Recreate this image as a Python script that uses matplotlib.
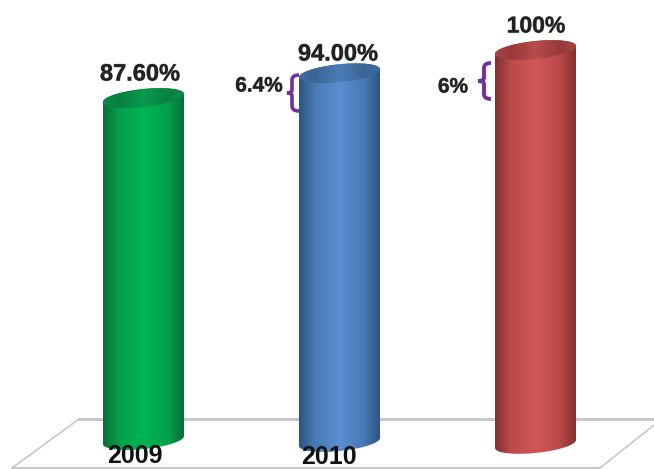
import matplotlib
matplotlib.use('Agg')
import matplotlib.pyplot as plt
import matplotlib.patheffects as pe
from matplotlib.patches import Polygon, PathPatch
from matplotlib.path import Path
from matplotlib.colors import LinearSegmentedColormap
import numpy as np

plt.rcParams['font.family'] = ['Liberation Sans', 'DejaVu Sans']

years = ['2009', '2010']
values = [87.6, 94.0, 100.0]
value_labels = ['87.60%', '94.00%', '100%']
bases = [-0.8, -1.3, -1.8]
gaps = ['6.4%', '6%']

# edge, shoulder, middle colours for the body, then the top ellipse
body_colors = [['#0a6e3a', '#04a04a', '#00b553'],
               ['#2b5484', '#4a7ab4', '#5a8ed2'],
               ['#833030', '#bc4a4a', '#d25656']]
top_colors = [['#0c8a48', '#08803f', '#0a9a4c'],
              ['#3d6da6', '#3a6494', '#4a7cb8'],
              ['#a84444', '#963a3a', '#b84c4c']]

W, H = 654, 469
px_per_cat = 196.0
px_per_val = 3.87
x0_px = 143.5
y0_px = 437.0

fig = plt.figure(figsize=(6.54, 4.69), dpi=100)
ax = fig.add_axes([0, 0, 1, 1])
ax.set_xlim(-x0_px / px_per_cat, (W - x0_px) / px_per_cat)
ax.set_ylim((y0_px - H) / px_per_val, y0_px / px_per_val)
ax.axis('off')

half_w = 40.5 / px_per_cat
ell_b = 9.0 / px_per_val
ell_k = 4.0 / px_per_val


def px(x, y):
    # picture pixels to data
    return (x - x0_px) / px_per_cat, (y0_px - y) / px_per_val


# floor
ax.plot(*zip(px(79, 419), px(654, 419)), color='#c4c4c4', lw=2, zorder=1)
ax.plot(*zip(px(79, 419), px(12, 468)), color='#c8c8c8', lw=1.2, zorder=1)
ax.plot(*zip(px(12, 468), px(600, 468)), color='#c8c8c8', lw=1.5, zorder=1)
ax.plot(*zip(px(600, 468), px(654, 425)), color='#c8c8c8', lw=1.2, zorder=1)


def gradient(colors, poly, x_left, x_right, y_low, y_high, z):
    nodes = [(0, colors[0]), (0.2, colors[1]), (0.5, colors[2]), (0.8, colors[1]), (1, colors[0])]
    cmap = LinearSegmentedColormap.from_list('c', nodes)
    im = ax.imshow(np.linspace(0, 1, 256).reshape(1, -1), cmap=cmap, aspect='auto',
                   extent=(x_left, x_right, y_low, y_high), zorder=z)
    patch = Polygon(poly, closed=True, transform=ax.transData, fc='none', ec='none')
    ax.add_patch(patch)
    im.set_clip_path(patch)


t = np.linspace(0, np.pi, 60)
halo = [pe.withStroke(linewidth=0.7, foreground='#55555588')]
label_px = [(140, 74), (338, 54), (536, 26)]
for i, v in enumerate(values):
    l, r = i - half_w, i + half_w
    # left to right, sheared so the right side sits higher
    ex = i - half_w * np.cos(t)
    shear = -ell_k * np.cos(t)
    top_back = v + ell_b * np.sin(t) + shear
    top_front = v - ell_b * np.sin(t) + shear
    low_front = bases[i] - ell_b * np.sin(t) + shear

    body = list(zip(ex, low_front)) + list(zip(ex[::-1], top_back[::-1]))
    gradient(body_colors[i], body, l, r, bases[i] - 5, v + 5, 3)
    lid = list(zip(ex, top_back)) + list(zip(ex[::-1], top_front[::-1]))
    gradient(top_colors[i], lid, l, r, v - 5, v + 5, 4)

    xd, yd = px(*label_px[i])
    ax.text(xd, yd, value_labels[i], ha='center', va='center',
            fontsize=17 if i < 2 else 16.5, fontweight='bold', color='#222222', zorder=6, path_effects=halo)

# year labels
year_px = [(135, 456), (329, 457)]
for lab, pos in zip(years, year_px):
    xd, yd = px(*pos)
    ax.text(xd, yd, lab, ha='center', va='center', fontsize=18, fontweight='bold', color='#111111', zorder=6)

# gap labels
gap_px = [(259, 86), (453, 87)]
for lab, pos in zip(gaps, gap_px):
    xd, yd = px(*pos)
    ax.text(xd, yd, lab, ha='center', va='center', fontsize=15, fontweight='bold', color='#222222', zorder=6,
            path_effects=halo)


def brace(x_tip, x_mid, x_end, y_top, y_bot, lw):
    ym = (y_top + y_bot) / 2
    pts = [(x_end, y_top), (x_mid, y_top), (x_mid, y_top + 5), (x_mid, ym - 3), (x_mid, ym), (x_tip, ym),
           (x_mid, ym), (x_mid, ym + 3), (x_mid, y_bot - 5), (x_mid, y_bot), (x_end, y_bot)]
    codes = [Path.MOVETO, Path.CURVE3, Path.CURVE3, Path.LINETO, Path.CURVE3, Path.CURVE3,
             Path.CURVE3, Path.CURVE3, Path.LINETO, Path.CURVE3, Path.CURVE3]
    ax.add_patch(PathPatch(Path([px(*p) for p in pts], codes), fc='none', ec='#7030a0', lw=lw, zorder=5))


brace(287, 292, 299, 75, 111, 2.6)
brace(478, 484, 491, 63, 99, 2.8)

fig.savefig('out.png', dpi=100)
